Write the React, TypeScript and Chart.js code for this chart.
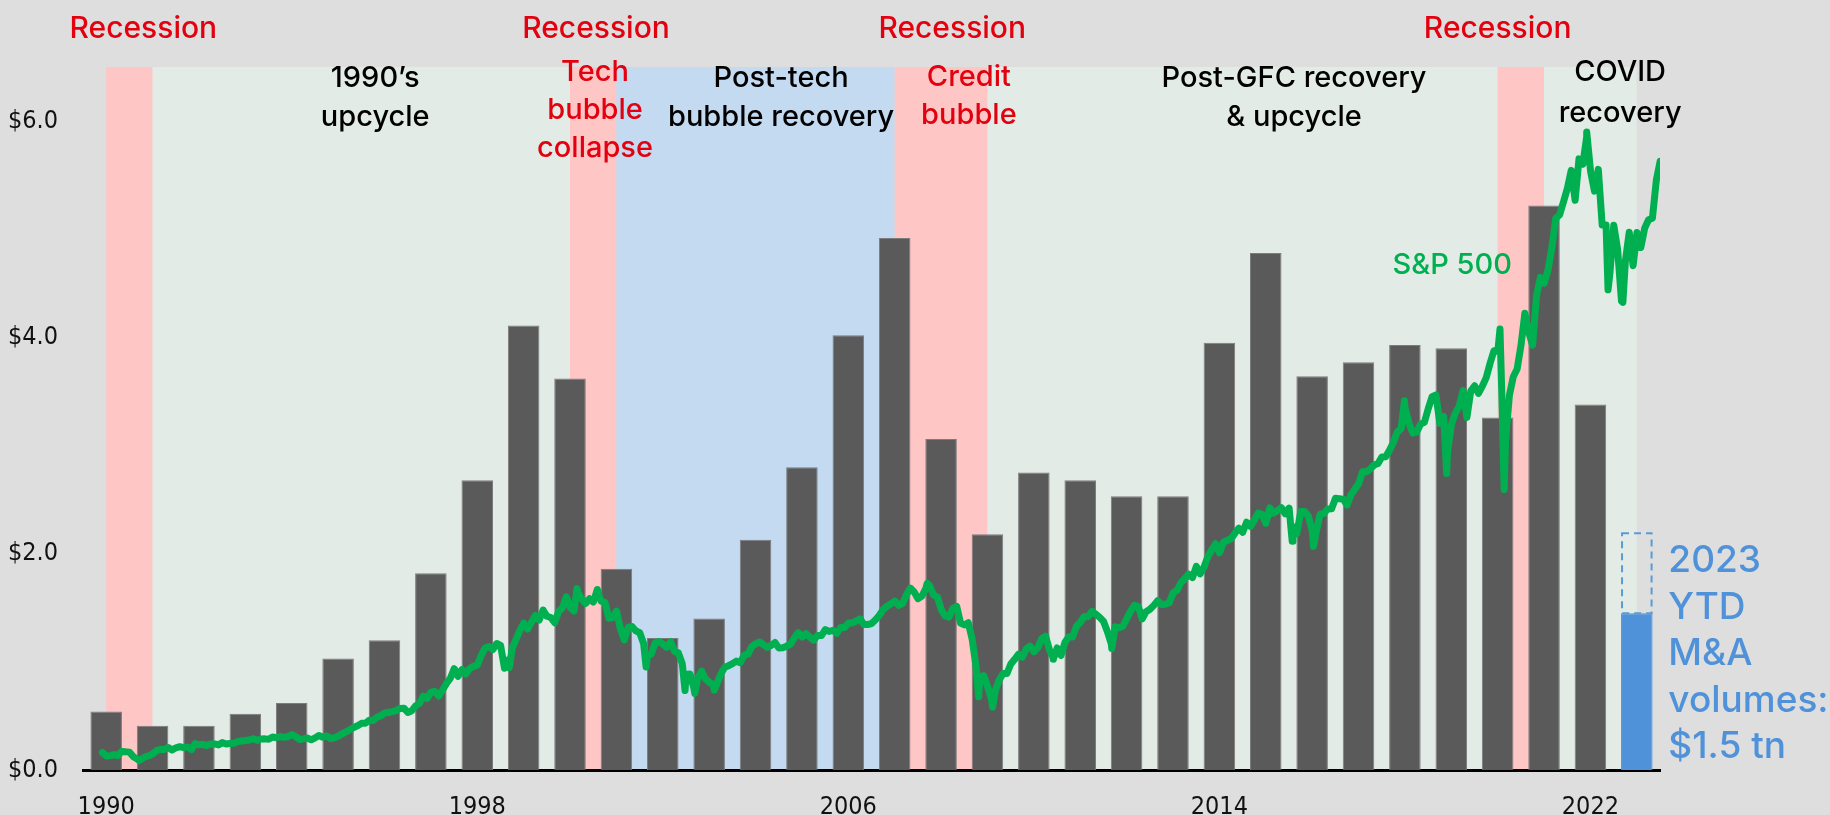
import React, { useEffect, useRef } from "react";
import { Chart, registerables } from "chart.js";

Chart.register(...registerables);

// ---------------- data ----------------
const years = [
  "1990", "1991", "1992", "1993", "1994", "1995", "1996", "1997", "1998", "1999",
  "2000", "2001", "2002", "2003", "2004", "2005", "2006", "2007", "2008", "2009",
  "2010", "2011", "2012", "2013", "2014", "2015", "2016", "2017", "2018", "2019",
  "2020", "2021", "2022", "2023",
];
// Global M&A volumes ($ tn)
const dealVolumes = [
  0.54, 0.41, 0.41, 0.52, 0.62, 1.03, 1.2, 1.82, 2.68, 4.11,
  3.62, 1.86, 1.22, 1.4, 2.13, 2.8, 4.02, 4.92, 3.06, 2.18,
  2.75, 2.68, 2.53, 2.53, 3.95, 4.78, 3.64, 3.77, 3.93, 3.9,
  3.26, 5.22, 3.38, 1.45,
];
const ytdYear = "2023";
const ytdProjected = 2.19;
const tickYears = ["1990", "1998", "2006", "2014", "2022"];
const yTickStep = 2;
const yMax = 6.5;

// S&P 500 month-end closes, one row per year starting 1990
const spStartYear = 1990;
const spFirstValue = 353;
const spMonthlyByYear = [
  [329, 331, 339, 331, 361, 358, 356, 323, 306, 304, 322, 330],
  [343, 367, 375, 375, 389, 371, 387, 395, 388, 392, 375, 417],
  [408, 412, 403, 414, 415, 408, 424, 414, 418, 419, 431, 436],
  [439, 443, 452, 440, 450, 451, 448, 464, 459, 468, 462, 466],
  [482, 467, 446, 451, 457, 444, 458, 475, 463, 472, 454, 459],
  [470, 487, 501, 515, 533, 545, 562, 562, 584, 582, 605, 616],
  [636, 640, 646, 654, 669, 671, 640, 652, 687, 705, 757, 741],
  [786, 791, 757, 801, 848, 885, 954, 899, 947, 915, 955, 970],
  [980, 1049, 1102, 1112, 1091, 1134, 1121, 957, 1017, 1099, 1164, 1229],
  [1280, 1238, 1286, 1335, 1302, 1373, 1329, 1320, 1283, 1363, 1389, 1469],
  [1394, 1366, 1499, 1452, 1421, 1455, 1431, 1518, 1437, 1429, 1315, 1320],
  [1366, 1240, 1160, 1249, 1256, 1224, 1211, 1134, 1041, 1060, 1139, 1148],
  [1130, 1107, 1147, 1077, 1067, 990, 912, 916, 815, 886, 936, 880],
  [856, 841, 848, 917, 964, 975, 990, 1008, 996, 1051, 1058, 1112],
  [1131, 1145, 1126, 1107, 1121, 1141, 1102, 1104, 1115, 1130, 1174, 1212],
  [1181, 1204, 1181, 1157, 1192, 1191, 1234, 1220, 1229, 1207, 1249, 1248],
  [1280, 1281, 1295, 1311, 1270, 1270, 1277, 1304, 1336, 1378, 1401, 1418],
  [1438, 1407, 1421, 1482, 1531, 1503, 1455, 1474, 1527, 1549, 1481, 1468],
  [1378, 1331, 1323, 1386, 1400, 1280, 1267, 1283, 1165, 969, 896, 903],
  [826, 735, 798, 873, 919, 919, 987, 1021, 1057, 1036, 1096, 1115],
  [1074, 1104, 1169, 1187, 1089, 1031, 1102, 1049, 1141, 1183, 1181, 1258],
  [1286, 1327, 1326, 1364, 1345, 1321, 1292, 1219, 1131, 1253, 1247, 1258],
  [1312, 1366, 1408, 1398, 1310, 1362, 1379, 1407, 1441, 1412, 1416, 1426],
  [1498, 1515, 1569, 1598, 1631, 1606, 1686, 1633, 1682, 1757, 1806, 1848],
  [1783, 1859, 1872, 1884, 1924, 1960, 1931, 2003, 1972, 2018, 2068, 2059],
  [1995, 2105, 2068, 2086, 2107, 2063, 2104, 1972, 1920, 2079, 2080, 2044],
  [1940, 1932, 2060, 2065, 2097, 2099, 2174, 2171, 2168, 2126, 2199, 2239],
  [2279, 2364, 2363, 2384, 2412, 2423, 2470, 2472, 2519, 2575, 2648, 2674],
  [2824, 2714, 2641, 2648, 2705, 2718, 2816, 2902, 2914, 2712, 2760, 2507],
  [2704, 2784, 2834, 2946, 2752, 2942, 2980, 2926, 2977, 3038, 3141, 3231],
  [3226, 2954, 2585, 2912, 3044, 3100, 3271, 3500, 3363, 3270, 3622, 3756],
  [3714, 3811, 3973, 4181, 4204, 4298, 4395, 4523, 4308, 4605, 4567, 4766],
  [4516, 4374, 4530, 4132, 4132, 3785, 4130, 3955, 3586, 3872, 4080, 3840],
  [4077, 3970, 4109, 4169, 4180, 4450, 4588],
];
// intra-month highs / lows
const spExtremeDates = [
  1990.79, 1998.77, 2000.23, 2000.67, 2001.72, 2002.56, 2002.77, 2003.19,
  2007.78, 2008.89, 2009.19, 2010.5, 2011.76, 2015.65, 2016.11, 2018.07,
  2018.98, 2020.13, 2020.22, 2022.0, 2022.46, 2022.78,
];
const spExtremeValues = [
  295, 960, 1527, 1520, 966, 797, 777, 800,
  1565, 752, 677, 1022, 1099, 1867, 1829, 2873,
  2351, 3386, 2237, 4797, 3667, 3577,
];
// S&P axis range matching the $ axis (0 → 6.5)
const spAxisMin = 228;
const spAxisMax = 5263;

// background periods (in years)
const periodStarts = [1990.5, 1991.5, 2000.5, 2001.5, 2007.5, 2009.5, 2020.5, 2021.5];
const periodEnds = [1991.5, 2000.5, 2001.5, 2007.5, 2009.5, 2020.5, 2021.5, 2023.5];
const periodKinds = ["rec", "up", "rec", "post", "rec", "up", "rec", "up"];

// ---------------- styles ----------------
const PAGE_BG = "#dedede";
const SHADE: Record<string, string> = { rec: "#ffc6c6", up: "#e2ebe6", post: "#c4daf1" };
const BAR = "#5a5a5a";
const BAR_EDGE = "#7c7c7c";
const BLUE = "#4f92d9";
const GREEN = "#00b050";
const RED = "#e3000f";
const TICK_FONT = '"Liberation Sans Narrow", "DejaVu Sans Condensed", Roboto, sans-serif';
const LABEL_FONT = 'Inter, "Noto Sans", sans-serif';
const SP_ALIGN = 0.42;

type Label = { lines: string[]; x: number; y: number; color: string; size: number; lh: number; align?: CanvasTextAlign };
const labels: Label[] = [
  { lines: ["Recession"], x: 1991.3, y: 29, color: RED, size: 30, lh: 38 },
  { lines: ["Recession"], x: 2001.06, y: 29, color: RED, size: 30, lh: 38 },
  { lines: ["Recession"], x: 2008.74, y: 29, color: RED, size: 30, lh: 38 },
  { lines: ["Recession"], x: 2020.5, y: 29, color: RED, size: 30, lh: 38 },
  { lines: ["1990\u2019s", "upcycle"], x: 1996.3, y: 78, color: "#000", size: 29, lh: 39 },
  { lines: ["Tech", "bubble", "collapse"], x: 2001.04, y: 72, color: RED, size: 29, lh: 38 },
  { lines: ["Post-tech", "bubble recovery"], x: 2005.05, y: 78, color: "#000", size: 29, lh: 39 },
  { lines: ["Credit", "bubble"], x: 2009.1, y: 77, color: RED, size: 29, lh: 38 },
  { lines: ["Post-GFC recovery", "& upcycle"], x: 2016.11, y: 78, color: "#000", size: 29, lh: 39 },
  { lines: ["COVID", "recovery"], x: 2023.14, y: 72, color: "#000", size: 29, lh: 41 },
  { lines: ["S&P 500"], x: 2019.52, y: 265, color: GREEN, size: 29, lh: 38 },
  { lines: ["2023", "YTD", "M&A", "volumes:", "$1.5 tn"], x: 2024.18, y: 561, color: BLUE, size: 37, lh: 46.5, align: "left" },
];

function buildSpPoints() {
  const pts: { x: number; y: number }[] = [{ x: spStartYear + SP_ALIGN, y: spFirstValue }];
  spMonthlyByYear.forEach((row, yi) => {
    row.forEach((v, m) => pts.push({ x: spStartYear + yi + (m + 1) / 12 + SP_ALIGN, y: v }));
  });
  spExtremeDates.forEach((d, i) => pts.push({ x: d + SP_ALIGN, y: spExtremeValues[i] }));
  pts.sort((a, b) => a.x - b.x);
  return pts;
}

const shadePlugin = {
  id: "shade",
  beforeDraw(chart: any) {
    const { ctx, chartArea } = chart;
    const xs = chart.scales.xt;
    ctx.save();
    periodStarts.forEach((s, i) => {
      const x0 = xs.getPixelForValue(s);
      const x1 = xs.getPixelForValue(periodEnds[i]);
      ctx.fillStyle = SHADE[periodKinds[i]];
      ctx.fillRect(x0, chartArea.top, x1 - x0, chartArea.bottom - chartArea.top);
    });
    ctx.restore();
  },
};

const ytdPlugin = {
  id: "ytdBox",
  afterDatasetsDraw(chart: any) {
    const { ctx } = chart;
    const meta = chart.getDatasetMeta(1);
    const idx = years.indexOf(ytdYear);
    const el: any = meta.data[idx];
    if (!el) return;
    const ys = chart.scales.y;
    const top = ys.getPixelForValue(ytdProjected);
    const bottom = ys.getPixelForValue(dealVolumes[idx]);
    const w = el.width;
    ctx.save();
    ctx.strokeStyle = "#5b9bd5";
    ctx.lineWidth = 2;
    ctx.setLineDash([7, 5]);
    ctx.strokeRect(el.x - w / 2 + 1, top, w - 2, bottom - top);
    ctx.restore();
  },
};

const textPlugin = {
  id: "texts",
  afterDraw(chart: any) {
    const { ctx } = chart;
    const xs = chart.scales.xt;
    ctx.save();
    ctx.textBaseline = "middle";
    labels.forEach((l) => {
      ctx.font = `500 ${l.size}px ${LABEL_FONT}`;
      ctx.fillStyle = l.color;
      ctx.textAlign = l.align || "center";
      const x = xs.getPixelForValue(l.x);
      l.lines.forEach((t, i) => ctx.fillText(t, x, l.y + i * l.lh));
    });
    ctx.restore();
  },
};

export default function App() {
  const ref = useRef<HTMLCanvasElement>(null);
  useEffect(() => {
    if (!ref.current) return;
    const ytdIdx = years.indexOf(ytdYear);
    const chart = new Chart(ref.current, {
      data: {
        labels: years,
        datasets: [
          {
            type: "line",
            label: "S&P 500",
            data: buildSpPoints(),
            xAxisID: "xt",
            yAxisID: "ysp",
            borderColor: GREEN,
            borderWidth: 7,
            pointRadius: 0,
            tension: 0,
            borderJoinStyle: "round",
            borderCapStyle: "round",
            order: 0,
          } as any,
          {
            type: "bar",
            label: "M&A volumes",
            data: dealVolumes,
            xAxisID: "x",
            yAxisID: "y",
            backgroundColor: years.map((_, i) => (i === ytdIdx ? BLUE : BAR)),
            borderColor: years.map((_, i) => (i === ytdIdx ? BLUE : BAR_EDGE)),
            borderWidth: 1,
            grouped: false,
            barPercentage: 0.68,
            categoryPercentage: 1,
            order: 1,
          } as any,
        ],
      },
      options: {
        responsive: false,
        animation: false,
        layout: { padding: { left: 0, right: 170, top: 67, bottom: 0 } },
        plugins: { legend: { display: false }, tooltip: { enabled: false } },
        scales: {
          x: {
            type: "category",
            position: "bottom",
            z: 1,
            grid: { display: false, drawTicks: false },
            border: { display: true, color: "#000", width: 3 },
            ticks: {
              autoSkip: false,
              maxRotation: 0,
              minRotation: 0,
              padding: 22,
              color: "#111",
              font: { family: TICK_FONT, size: 25 },
              callback: (_v: any, i: number) => (tickYears.includes(years[i]) ? years[i] : ""),
            },
            afterFit: (s: any) => {
              s.height = 45;
            },
          },
          xt: { type: "linear", display: false, min: 1990, max: 2024 },
          y: {
            type: "linear",
            position: "left",
            min: 0,
            max: yMax,
            grid: { display: false, drawTicks: false },
            border: { display: false },
            ticks: {
              stepSize: yTickStep,
              includeBounds: false,
              padding: 25,
              color: "#111",
              font: { family: TICK_FONT, size: 25 },
              callback: (v: any) => "$" + Number(v).toFixed(1),
            },
            afterFit: (s: any) => {
              s.width = 83;
            },
          },
          ysp: { type: "linear", display: false, min: spAxisMin, max: spAxisMax },
        },
      } as any,
      plugins: [shadePlugin, ytdPlugin, textPlugin],
    });
    return () => chart.destroy();
  }, []);

  return (
    <div style={{ position: "fixed", left: 0, top: 0, width: 1830, height: 815, background: PAGE_BG }}>
      <canvas ref={ref} width={1830} height={815} style={{ display: "block" }} />
    </div>
  );
}
